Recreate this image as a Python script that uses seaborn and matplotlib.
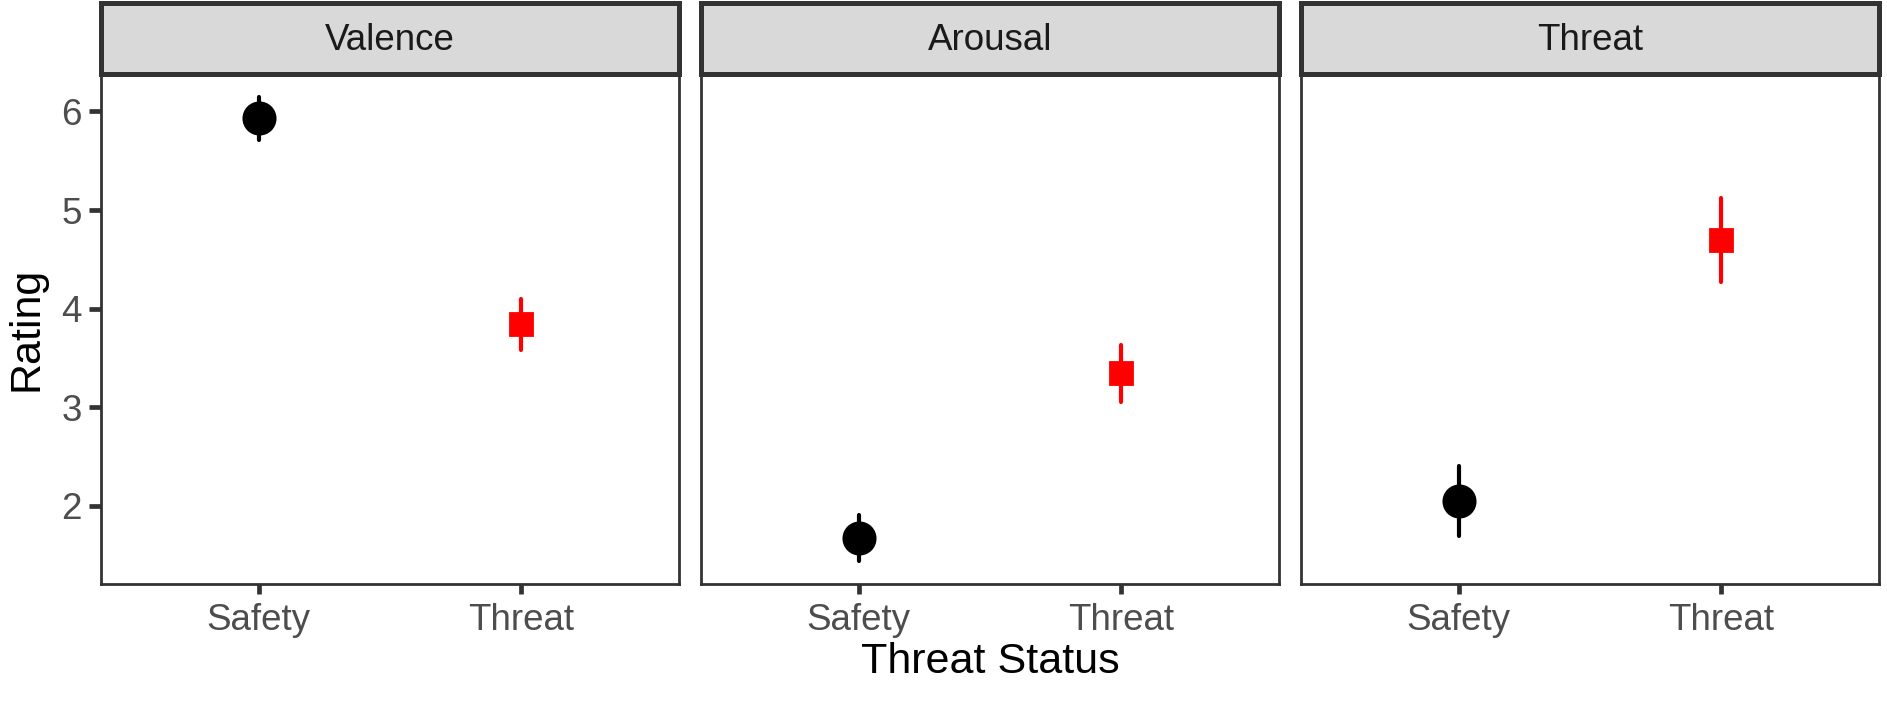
import numpy as np
import pandas as pd
import matplotlib
matplotlib.use("Agg")
import matplotlib.pyplot as plt
from matplotlib.patches import Rectangle
import seaborn as sns

# values (mean and half-width of error bar)
measures = ["Valence", "Arousal", "Threat"]
statuses = ["Safety", "Threat"]
safety_mean = [5.93, 1.675, 2.05]
safety_err = [0.215, 0.232, 0.357]
threat_mean = [3.84, 3.345, 4.695]
threat_err = [0.257, 0.29, 0.423]

colors = {"Safety": "black", "Threat": "#FF0000"}
markers = {"Safety": "o", "Threat": "s"}
msizes = {"Safety": 22.5, "Threat": 16.5}

# long table: lower, mean, upper for each cell -> mean is the estimate, min/max the bar
rows = []
for i, m in enumerate(measures):
    for s, mu, er in (("Safety", safety_mean[i], safety_err[i]),
                      ("Threat", threat_mean[i], threat_err[i])):
        for v in (mu - er, mu, mu + er):
            rows.append({"measure": m, "status": s, "rating": v})
df = pd.DataFrame(rows)

sns.set_theme(style="white")
plt.rcParams["font.family"] = ["Liberation Sans", "DejaVu Sans"]

W, H = 1887, 704
fig = plt.figure(figsize=(W / 100, H / 100), dpi=100)

lo = min(np.subtract(safety_mean, safety_err).min(), np.subtract(threat_mean, threat_err).min())
hi = max(np.add(safety_mean, safety_err).max(), np.add(threat_mean, threat_err).max())
pad = (hi - lo) * 0.05

panel_w, gap = 578, 22
left0 = 101
bottom_px, top_px = 583.7, 74
strip_top = 3
edge = "#333333"

for i, m in enumerate(measures):
    x0 = left0 + i * (panel_w + gap)
    ax = fig.add_axes([x0 / W, 1 - bottom_px / H, panel_w / W, (bottom_px - top_px) / H])
    sub = df[df["measure"] == m]
    for s in statuses:
        sns.pointplot(data=sub[sub["status"] == s], x="status", y="rating", order=statuses,
                      estimator="mean", errorbar=lambda v: (v.min(), v.max()),
                      color=colors[s], markers=markers[s], linestyles="none",
                      markersize=msizes[s], err_kws={"linewidth": 3.0}, ax=ax)
    ax.set_xlim(-0.6, 1.6)
    ax.set_ylim(lo - pad, hi + pad)
    ax.set_yticks([2, 3, 4, 5, 6])
    ax.set_xlabel("")
    ax.set_ylabel("")
    for sp in ax.spines.values():
        sp.set_color(edge)
        sp.set_linewidth(2.0)
    ax.tick_params(axis="both", which="both", length=9, width=3.4, color=edge,
                   labelsize=26.5, labelcolor="#4D4D4D", pad=5,
                   left=(i == 0), bottom=True, labelleft=(i == 0))
    ax.tick_params(axis="x", length=7, pad=7)

    # strip above the panel
    sax = fig.add_axes([x0 / W, 1 - top_px / H, panel_w / W, (top_px - strip_top) / H])
    sax.set_xticks([])
    sax.set_yticks([])
    sax.set_facecolor("#D9D9D9")
    for sp in sax.spines.values():
        sp.set_color(edge)
        sp.set_linewidth(3.6)
    sax.text(0.5, 0.47, m, ha="center", va="center", fontsize=26.5, color="#1A1A1A",
             transform=sax.transAxes)

fig.text(26 / W, 1 - 329 / H, "Rating", rotation=90, ha="center", va="center",
         fontsize=31, color="black")
fig.text(990 / W, 1 - 662 / H, "Threat Status", ha="center", va="center",
         fontsize=31, color="black")

fig.savefig("out.png", dpi=100, facecolor="white")
